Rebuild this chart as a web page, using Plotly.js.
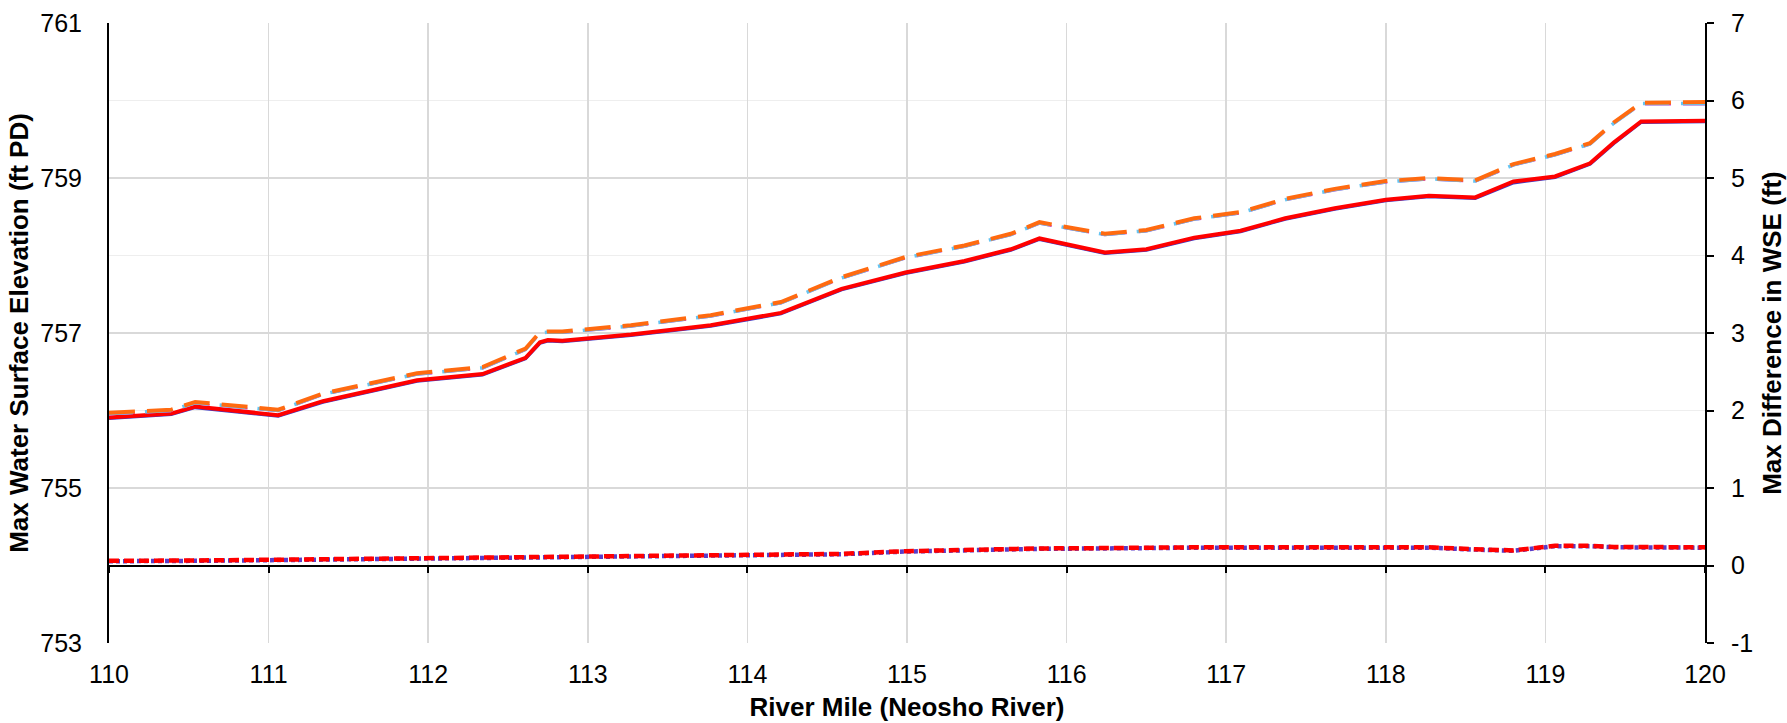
<!DOCTYPE html>
<html>
<head>
<meta charset="utf-8">
<script src="https://cdn.plot.ly/plotly-3.0.1.min.js"></script>
<style>html,body{margin:0;padding:0;background:#fff;}#chart{width:1787px;height:723px;}</style>
</head>
<body>
<div id="chart"></div>
<script>
// River mile stations (Neosho River)
const riverMile = [110.0, 110.39, 110.54, 111.06, 111.34, 111.93, 112.34, 112.61, 112.70, 112.75, 112.84, 113.27, 113.77, 114.21, 114.59, 114.99, 115.36, 115.65, 115.83, 116.24, 116.50, 116.80, 117.09, 117.37, 117.68, 118.0, 118.27, 118.56, 118.80, 119.06, 119.28, 119.43, 119.60, 119.78, 120.0];

// Existing max WSE (ft PD)
const existingBlue = [755.90, 755.95, 756.04, 755.93, 756.11, 756.38, 756.46, 756.67, 756.87, 756.90, 756.89, 756.97, 757.09, 757.25, 757.56, 757.77, 757.92, 758.07, 758.21, 758.03, 758.07, 758.22, 758.31, 758.47, 758.60, 758.71, 758.76, 758.74, 758.94, 759.01, 759.18, 759.45, 759.72, 759.72, 759.73];
const existingRed = [755.91, 755.96, 756.05, 755.94, 756.12, 756.39, 756.47, 756.68, 756.88, 756.91, 756.90, 756.98, 757.10, 757.26, 757.57, 757.78, 757.93, 758.08, 758.22, 758.04, 758.08, 758.23, 758.32, 758.48, 758.61, 758.72, 758.77, 758.75, 758.955, 759.02, 759.19, 759.46, 759.73, 759.73, 759.74];

// Proposed max WSE (ft PD)
const proposedMagenta = [755.95, 755.99, 756.09, 755.99, 756.20, 756.46, 756.54, 756.78, 756.99, 757.00, 757.00, 757.08, 757.21, 757.38, 757.70, 757.96, 758.11, 758.26, 758.41, 758.26, 758.31, 758.46, 758.54, 758.71, 758.84, 758.94, 758.98, 758.95, 759.16, 759.29, 759.43, 759.70, 759.95, 759.95, 759.95];
const proposedBlue = [755.96, 756.00, 756.10, 756.00, 756.21, 756.47, 756.55, 756.79, 757.00, 757.01, 757.01, 757.09, 757.22, 757.39, 757.71, 757.97, 758.12, 758.27, 758.42, 758.27, 758.32, 758.47, 758.55, 758.72, 758.85, 758.95, 758.99, 758.96, 759.17, 759.30, 759.44, 759.71, 759.96, 759.96, 759.96];
const proposedOrange = [755.97, 756.01, 756.11, 756.01, 756.22, 756.48, 756.56, 756.80, 757.01, 757.02, 757.02, 757.10, 757.23, 757.40, 757.72, 757.98, 758.13, 758.28, 758.43, 758.28, 758.33, 758.48, 758.56, 758.73, 758.86, 758.96, 759.00, 758.97, 759.18, 759.31, 759.45, 759.72, 759.97, 759.97, 759.98];

// Max difference in WSE (ft)
const diffBlue = [0.055, 0.055, 0.06, 0.07, 0.075, 0.085, 0.095, 0.095, 0.10, 0.10, 0.105, 0.11, 0.125, 0.135, 0.145, 0.18, 0.195, 0.215, 0.215, 0.22, 0.23, 0.23, 0.23, 0.23, 0.23, 0.235, 0.23, 0.205, 0.19, 0.25, 0.25, 0.235, 0.235, 0.23, 0.23];
const diffRed = [0.06, 0.06, 0.065, 0.075, 0.08, 0.09, 0.10, 0.10, 0.105, 0.105, 0.11, 0.115, 0.13, 0.14, 0.15, 0.185, 0.20, 0.22, 0.22, 0.225, 0.235, 0.235, 0.235, 0.235, 0.235, 0.24, 0.235, 0.21, 0.195, 0.255, 0.255, 0.24, 0.24, 0.235, 0.235];

// Axis tick settings
const xTicks = [110, 111, 112, 113, 114, 115, 116, 117, 118, 119, 120];
const yLeftTicks = [753, 755, 757, 759, 761];
const yRightTicks = [-1, 0, 1, 2, 3, 4, 5, 6, 7];

const FONT = 'Liberation Sans, Arial, sans-serif';

const traces = [
  {x: riverMile, y: existingBlue, mode: 'lines', line: {color: '#3c3cc8', width: 3.5}, name: 'Existing A'},
  {x: riverMile, y: existingRed, mode: 'lines', line: {color: '#ff0000', width: 4}, name: 'Existing B'},
  {x: riverMile, y: proposedMagenta, mode: 'lines', line: {color: '#cc33cc', width: 2, dash: '26px,12px'}, name: 'Proposed A'},
  {x: riverMile, y: proposedBlue, mode: 'lines', line: {color: '#66c4f2', width: 3.5, dash: '24px,12px,2px,0px'}, name: 'Proposed B'},
  {x: riverMile, y: proposedOrange, mode: 'lines', line: {color: '#ff6a10', width: 4, dash: '26px,12px'}, name: 'Proposed C'},
  {x: riverMile, y: diffBlue, mode: 'lines', xaxis: 'x2', yaxis: 'y2', line: {color: '#5a3cc8', width: 4.5, dash: '4px,3px'}, name: 'Diff A'},
  {x: riverMile, y: diffRed, mode: 'lines', xaxis: 'x2', yaxis: 'y2', line: {color: '#ff0000', width: 4.5, dash: '10px,5px'}, name: 'Diff B'}
];

const layout = {
  width: 1787, height: 723,
  margin: {l: 109, r: 82, t: 23, b: 80, pad: 0},
  paper_bgcolor: '#ffffff', plot_bgcolor: '#ffffff',
  showlegend: false,
  font: {family: FONT, color: '#000000', size: 25},
  xaxis: {
    range: [110, 120], tickvals: xTicks, ticktext: xTicks.map(String),
    showgrid: true, gridcolor: '#d9d9d9', gridwidth: 1.5,
    showline: false, zeroline: false, ticks: '',
    ticklabelstandoff: 14,
    tickfont: {family: FONT, size: 25, color: '#000'},
    title: {text: '<b>River Mile (Neosho River)</b>', font: {family: FONT, size: 26, color: '#000'}, standoff: 10},
    automargin: false
  },
  xaxis2: {
    overlaying: 'x', anchor: 'free', position: 0.125,
    range: [110, 120], tickvals: xTicks,
    showticklabels: false, showgrid: false, zeroline: false,
    showline: true, linecolor: '#000', linewidth: 2,
    ticks: 'outside', ticklen: 6, tickwidth: 2, tickcolor: '#000'
  },
  yaxis: {
    range: [753, 761], tickvals: yLeftTicks, ticktext: yLeftTicks.map(String),
    showgrid: true, gridcolor: '#d9d9d9', gridwidth: 1.5,
    minor: {tickvals: [754, 756, 758, 760], showgrid: true, gridcolor: '#eeeeee', gridwidth: 1.5, ticks: ''},
    showline: true, linecolor: '#000', linewidth: 2, zeroline: false, ticks: '',
    ticklabelstandoff: 20,
    tickfont: {family: FONT, size: 25, color: '#000'},
    title: {text: '<b>Max Water Surface Elevation (ft PD)</b>', font: {family: FONT, size: 26, color: '#000'}, standoff: 4},
    automargin: false
  },
  yaxis2: {
    overlaying: 'y', side: 'right', anchor: 'x2',
    range: [-1, 7], tickvals: yRightTicks, ticktext: yRightTicks.map(String),
    showgrid: false, zeroline: false,
    showline: true, linecolor: '#000', linewidth: 2,
    ticks: 'outside', ticklen: 7, tickwidth: 2, tickcolor: '#000',
    ticklabelstandoff: 12,
    tickfont: {family: FONT, size: 25, color: '#000'},
    title: {text: '<b>Max Difference in WSE (ft)</b>', font: {family: FONT, size: 26, color: '#000'}, standoff: 14},
    automargin: false
  }
};

Plotly.newPlot('chart', traces, layout, {displayModeBar: false, staticPlot: true});
</script>
</body>
</html>
